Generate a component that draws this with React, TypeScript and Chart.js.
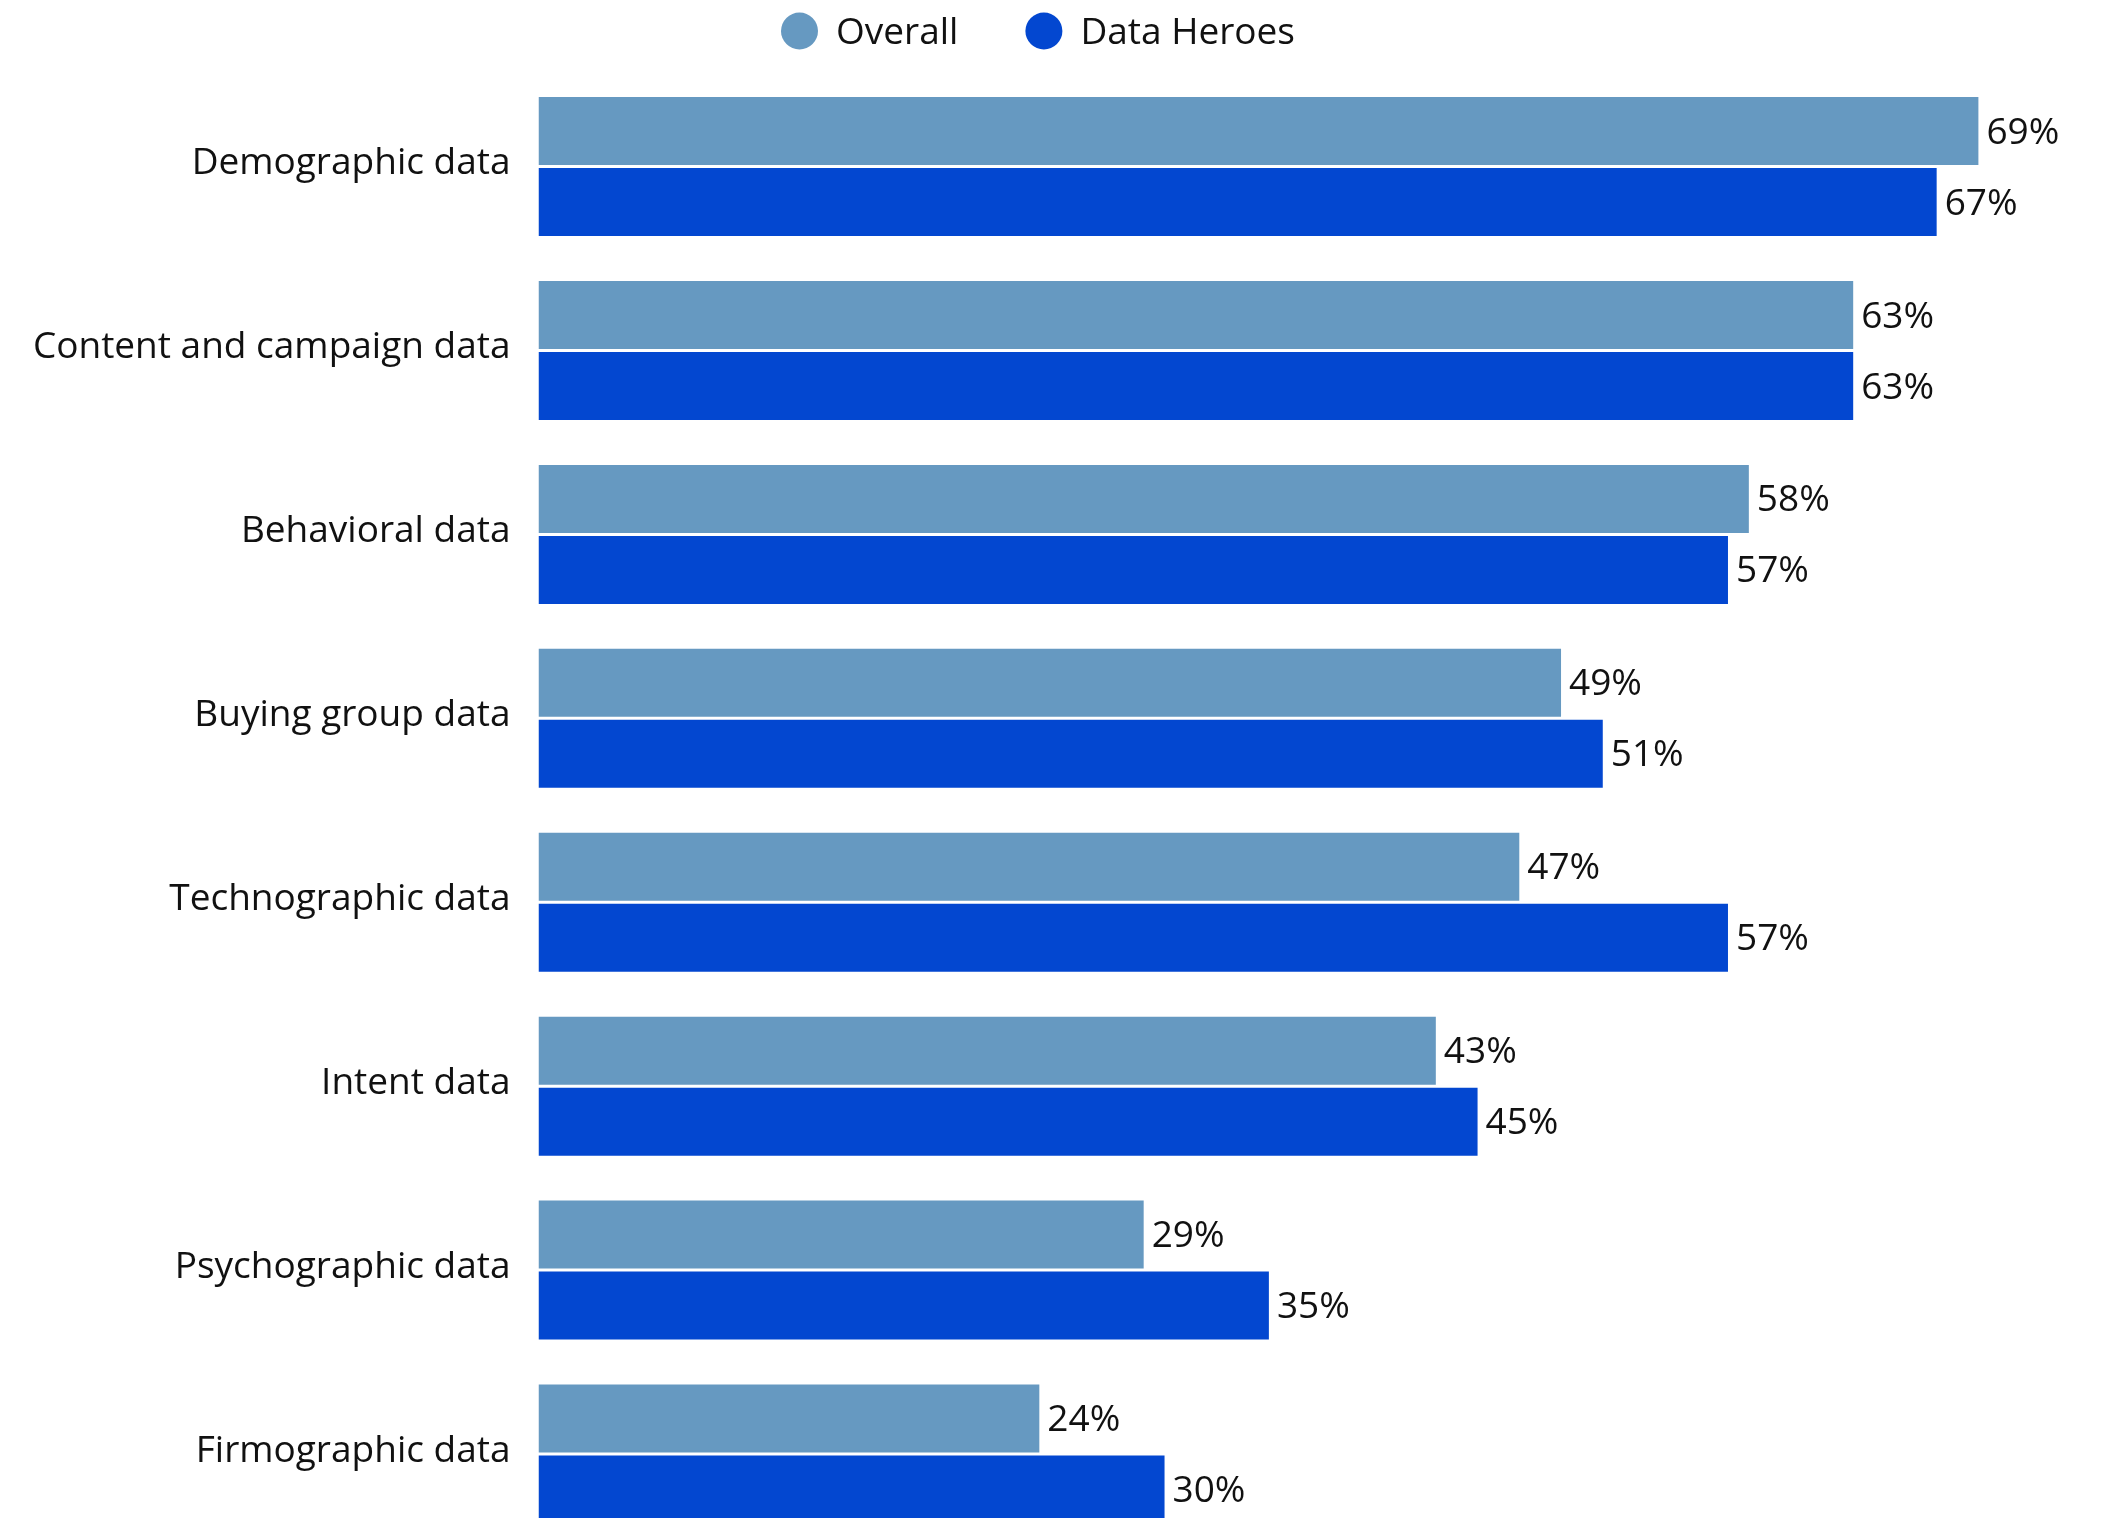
import React, { useEffect, useRef } from "react";
import { Chart, registerables } from "chart.js";

Chart.register(...registerables);

const categories = [
  "Demographic data",
  "Content and campaign data",
  "Behavioral data",
  "Buying group data",
  "Technographic data",
  "Intent data",
  "Psychographic data",
  "Firmographic data",
];
const overallValues = [69, 63, 58, 49, 47, 43, 29, 24];
const heroesValues = [67, 63, 57, 51, 57, 45, 35, 30];
const seriesNames = ["Overall", "Data Heroes"];
const seriesColors = ["#6699C1", "#0347D0"];

const FONT = "'Open Sans', 'Noto Sans', sans-serif";
const FONT_SIZE = 37;
const TEXT_COLOR = "#111111";

const valueLabelPlugin = {
  id: "valueLabels",
  afterDatasetsDraw(chart: any) {
    const ctx = chart.ctx;
    ctx.save();
    ctx.font = `${FONT_SIZE}px ${FONT}`;
    ctx.fillStyle = TEXT_COLOR;
    ctx.textAlign = "left";
    ctx.textBaseline = "middle";
    chart.data.datasets.forEach((ds: any, di: number) => {
      const meta = chart.getDatasetMeta(di);
      meta.data.forEach((bar: any, i: number) => {
        ctx.fillText(`${ds.data[i]}%`, bar.x + 8, bar.y + 2);
      });
    });
    ctx.restore();
  },
};

const legendPlugin = {
  id: "customLegend",
  afterDraw(chart: any) {
    const ctx = chart.ctx;
    ctx.save();
    ctx.font = `${FONT_SIZE}px ${FONT}`;
    const diameter = 37;
    const gapText = 18;
    const gapItems = 67;
    const widths = seriesNames.map((n) => ctx.measureText(n).width);
    let total = 0;
    widths.forEach((w, i) => {
      total += diameter + gapText + w + (i < widths.length - 1 ? gapItems : 0);
    });
    const centerX = 1038;
    const cy = 31;
    let x = centerX - total / 2;
    seriesNames.forEach((name, i) => {
      ctx.beginPath();
      ctx.fillStyle = seriesColors[i];
      ctx.arc(x + diameter / 2, cy, diameter / 2, 0, Math.PI * 2);
      ctx.fill();
      ctx.fillStyle = TEXT_COLOR;
      ctx.textAlign = "left";
      ctx.textBaseline = "middle";
      ctx.fillText(name, x + diameter + gapText, cy + 2);
      x += diameter + gapText + widths[i] + gapItems;
    });
    ctx.restore();
  },
};

export default function App() {
  const canvasRef = useRef<HTMLCanvasElement | null>(null);

  useEffect(() => {
    if (!canvasRef.current) return;
    const chart = new Chart(canvasRef.current, {
      type: "bar",
      data: {
        labels: categories,
        datasets: [
          {
            label: seriesNames[0],
            data: overallValues,
            backgroundColor: seriesColors[0],
            borderWidth: 0,
            categoryPercentage: 0.772,
            barPercentage: 0.958,
          },
          {
            label: seriesNames[1],
            data: heroesValues,
            backgroundColor: seriesColors[1],
            borderWidth: 0,
            categoryPercentage: 0.772,
            barPercentage: 0.958,
          },
        ],
      },
      options: {
        indexAxis: "y",
        responsive: false,
        animation: false,
        devicePixelRatio: 1,
        layout: { padding: { top: 74.6, right: 65, bottom: 0, left: 0 } },
        plugins: {
          legend: { display: false },
          tooltip: { enabled: false },
        },
        scales: {
          x: {
            display: false,
            min: 0,
            max: 72,
          },
          y: {
            afterFit: (scale: any) => {
              scale.width = 538.5;
              scale.paddingTop = 0;
              scale.paddingBottom = 0;
            },
            grid: { display: false, drawTicks: false },
            border: { display: false },
            ticks: {
              padding: 28,
              labelOffset: -3,
              color: TEXT_COLOR,
              font: { family: FONT, size: FONT_SIZE },
            },
          },
        },
      },
      plugins: [valueLabelPlugin, legendPlugin],
    });
    return () => chart.destroy();
  }, []);

  return (
    <div
      style={{
        position: "fixed",
        top: 0,
        left: 0,
        width: 2106,
        height: 1518,
        overflow: "hidden",
        background: "#ffffff",
      }}
    >
      <canvas ref={canvasRef} width={2106} height={1546} style={{ display: "block" }} />
    </div>
  );
}
